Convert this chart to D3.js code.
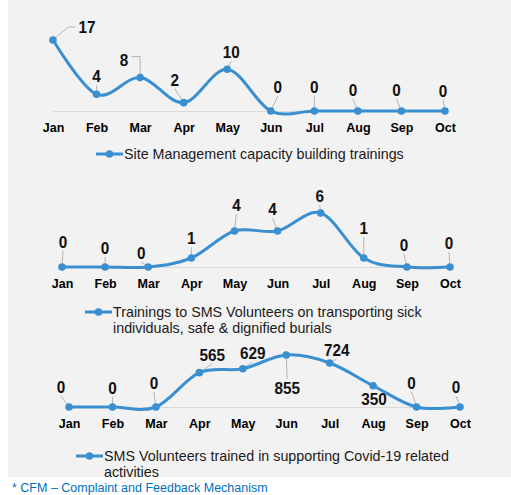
<!DOCTYPE html>
<html>
<head>
<meta charset="utf-8">
<script src="https://cdn.jsdelivr.net/npm/d3@7"></script>
<style>
  body { margin: 0; background: #fff; }
  svg { display: block; }
</style>
</head>
<body>
<svg id="chart" width="511" height="495"></svg>
<script>
// data
var months = ["Jan", "Feb", "Mar", "Apr", "May", "Jun", "Jul", "Aug", "Sep", "Oct"];
var siteMgmt = [17, 4, 8, 2, 10, 0, 0, 0, 0, 0];
var sickTransport = [0, 0, 0, 1, 4, 4, 6, 1, 0, 0];
var covidVolunteers = [0, 0, 0, 565, 629, 855, 724, 350, 0, 0];

var legend1 = ["Site Management capacity building trainings"];
var legend2 = ["Trainings to SMS Volunteers on transporting sick", "individuals, safe & dignified burials"];
var legend3 = ["SMS Volunteers trained in supporting Covid-19 related", "activities"];

// label placement (offset of label baseline from the point), third item = leader style
var offs1 = [[34, -7, "left"], [0, -12], [-16, -12, "right"], [-9, -17], [4, -11], [7, -18], [0, -18], [-5, -15], [-5, -15], [-2, -14]];
var offs2 = [[1, -19], [0, -13], [-7, -8], [0, -14], [2, -20], [-5, -16], [-1, -11], [0, -24], [-3, -16], [-1, -18]];
var offs3 = [[-8, -14], [0, -13], [-2, -18], [13, -12], [10, -10], [1, 39], [7, -7], [1, 19], [-5, -18], [-4, -14]];

var blue = "#3a8fd0";
var sans = "Arial, 'Liberation Sans', sans-serif";
var svg = d3.select("#chart");

svg.append("rect")
  .attr("x", 8).attr("y", 0)
  .attr("width", 503).attr("height", 477)
  .attr("fill", "#f2f2f2");

var panels = [
  { values: siteMgmt, offs: offs1, legend: legend1, x0: 53, x1: 445, base: 111, top: 40, max: 17, legX: 96, legY: 154 },
  { values: sickTransport, offs: offs2, legend: legend2, x0: 62, x1: 450, base: 267, top: 213, max: 6, legX: 85, legY: 312 },
  { values: covidVolunteers, offs: offs3, legend: legend3, x0: 69, x1: 460, base: 407, top: 355, max: 855, legX: 76, legY: 456 }
];

panels.forEach(function (p) {
  var x = d3.scalePoint().domain(months).range([p.x0, p.x1]);
  var y = d3.scaleLinear().domain([0, p.max]).range([p.base, p.top]);

  var g = svg.append("g");

  // axis
  var axis = d3.axisBottom(x).tickSize(0).tickPadding(12);
  var ax = g.append("g")
    .attr("transform", "translate(0," + p.base + ")")
    .call(axis);
  ax.select(".domain").attr("stroke", "#d9d9d9").attr("stroke-width", 1);
  ax.selectAll("text")
    .attr("font-family", sans)
    .attr("font-size", "12.5px")
    .attr("font-weight", "bold")
    .attr("fill", "#000");

  var pts = p.values.map(function (v, i) { return [x(months[i]), y(v)]; });

  // leader lines
  p.offs.forEach(function (o, i) {
    var px = pts[i][0], py = pts[i][1];
    var lx = px + o[0], ly = py + o[1];
    var txt = String(p.values[i]);
    var w = txt.length * 8.5;
    var path = null;
    if (o[2] === "left") {
      var ex = lx - w / 2 - 3, ey = ly - 6;
      path = [[px + 2, py - 2], [ex - 7, ey], [ex, ey]];
    } else if (o[2] === "right") {
      var rx = lx + w / 2 + 3, ry = ly - 9;
      path = [[px, py - 2], [px, ry], [rx, ry]];
    } else {
      var tx, ty;
      if (o[1] < 0) { tx = lx; ty = ly + 3; } else { tx = lx; ty = ly - 15; }
      var dx = tx - px, dy = ty - py;
      var len = Math.sqrt(dx * dx + dy * dy);
      if (len > 6) {
        path = [[px + dx / len * 2, py + dy / len * 2], [tx, ty]];
      }
    }
    if (path) {
      g.append("path")
        .attr("d", d3.line()(path))
        .attr("fill", "none")
        .attr("stroke", "#a6a6a6")
        .attr("stroke-width", 0.8);
    }
  });

  // line
  g.append("path")
    .datum(p.values)
    .attr("d", d3.line()
      .x(function (d, i) { return x(months[i]); })
      .y(function (d) { return y(d); })
      .curve(d3.curveCardinal.tension(0)))
    .attr("fill", "none")
    .attr("stroke", blue)
    .attr("stroke-width", 3);

  g.selectAll("circle.pt")
    .data(p.values)
    .enter().append("circle")
    .attr("class", "pt")
    .attr("cx", function (d, i) { return x(months[i]); })
    .attr("cy", function (d) { return y(d); })
    .attr("r", 3.8)
    .attr("fill", blue);

  // data labels (slightly condensed bold)
  g.selectAll("text.lbl")
    .data(p.values)
    .enter().append("text")
    .attr("class", "lbl")
    .attr("transform", function (d, i) {
      return "translate(" + (x(months[i]) + p.offs[i][0]) + "," + (y(d) + p.offs[i][1]) + ") scale(0.9,1)";
    })
    .attr("text-anchor", "middle")
    .attr("font-family", sans)
    .attr("font-size", "17px")
    .attr("font-weight", "bold")
    .attr("fill", "#111")
    .text(function (d) { return d; });

  // legend
  g.append("line")
    .attr("x1", p.legX).attr("x2", p.legX + 27)
    .attr("y1", p.legY).attr("y2", p.legY)
    .attr("stroke", blue).attr("stroke-width", 3);
  g.append("circle")
    .attr("cx", p.legX + 13.5).attr("cy", p.legY)
    .attr("r", 3.8).attr("fill", blue);
  p.legend.forEach(function (line, k) {
    g.append("text")
      .attr("x", p.legX + 28)
      .attr("y", p.legY + 5 + k * 16)
      .attr("font-family", sans)
      .attr("font-size", "14.3px")
      .attr("fill", "#1a1a1a")
      .text(line);
  });
});

svg.append("text")
  .attr("x", 12)
  .attr("y", 492)
  .attr("font-family", sans)
  .attr("font-size", "12.5px")
  .attr("fill", "#0070c0")
  .text("* CFM \u2013 Complaint and Feedback Mechanism");
</script>
</body>
</html>
